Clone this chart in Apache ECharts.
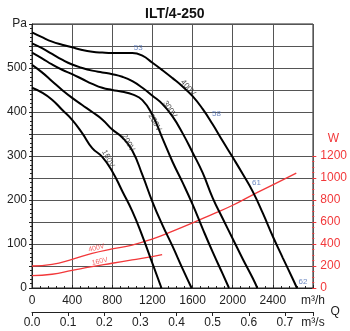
<!DOCTYPE html>
<html><head><meta charset="utf-8">
<script src="https://cdn.jsdelivr.net/npm/echarts@6/dist/echarts.min.js"></script>
<style>html,body{margin:0;padding:0;background:#fff}#c{width:350px;height:331px}</style>
</head><body><div id="c"></div>
<script>
// ---- data ----
const title = 'ILT/4-250';
const flowTicksMax = 2800;
const flow400 = [0,100,200,300,400,500,600,700,800,900,1000,1100,1200,1300,1400,1500,1600,1700,1800,1900,2000,2100,2200,2300,2400,2500,2600,2640];
const pa400   = [581,570,560,553,547,541,537,535,534,534,534,528,512,495,477,458,436,407,372,334,297,259,219,170,117,68,20,0];
const flow300 = [0,100,200,300,400,500,600,700,800,900,1000,1100,1200,1300,1400,1500,1600,1700,1800,1900,2000,2100,2200,2245];
const pa300   = [556,545,532,519,508,500,494,490,486,480,470,455,437,418,390,352,308,262,205,158,112,66,22,0];
const flow250 = [0,100,200,300,400,500,600,700,800,900,1000,1100,1200,1300,1400,1500,1600,1700,1800,1900,1963];
const pa250   = [535,522,508,496,486,475,464,455,450,446,440,427,393,340,287,240,190,135,82,32,0];
const flow200 = [0,100,200,300,400,500,600,700,800,900,1000,1100,1200,1300,1400,1500,1590];
const pa200   = [507,490,470,450,432,416,400,383,360,342,312,257,196,143,95,44,0];
const flow160 = [0,100,200,300,400,500,600,700,800,900,1000,1100,1200,1290];
const pa160   = [455,444,428,405,382,352,318,298,265,220,174,118,56,0];

const powerFlow400 = [0,200,400,600,800,1000,1200,1400,1600,1800,2000,2200,2400,2640];
const power400     = [200,215,260,315,355,390,445,515,590,670,750,845,935,1045];
const powerFlow160 = [0,200,400,600,800,1000,1200,1300];
const power160     = [112,125,160,195,225,255,285,303];

const curveNames = ['400V','300V','250V','200V','160V'];
const curveLabelFlow = [1555,1373,1224,958,759];
const curveLabelPa   = [455,406,376,330,294];
const powerNames = ['400V','160V'];
const powerLabelFlow = [644,677];
const powerLabelW    = [364,242];
const pointNames = ['53','58','61','62'];
const pointFlow  = [1058,1838,2236,2700];
const pointPa    = [547,397,238,15];

// ---- styling ----
const curveRot = [-48,-55,-60,-60,-62];
const powerRot = [14,12];
const FONT = 'Liberation Sans, Arial, sans-serif';
const RED = '#f2383a';
const zip = (a,b) => a.map((v,i)=>[v,b[i]]);

const chart = echarts.init(document.getElementById('c'), null, {renderer:'canvas'});
const fanSeries = [[flow400,pa400],[flow300,pa300],[flow250,pa250],[flow200,pa200],[flow160,pa160]].map((d,i)=>({
  type:'line', name:curveNames[i], xAxisIndex:0, yAxisIndex:0, data:zip(d[0],d[1]),
  smooth:0.5, showSymbol:false, lineStyle:{color:'#000',width:2}, z:5, silent:true
}));
const powerSeries = [[powerFlow400,power400],[powerFlow160,power160]].map((d,i)=>({
  type:'line', name:'P'+powerNames[i], xAxisIndex:2, yAxisIndex:1, data:zip(d[0],d[1]),
  smooth:0.5, showSymbol:false, lineStyle:{color:RED,width:1.3}, z:4, silent:true
}));
const textSeries = (names, xs, ys, rots, xi, yi, color, size) => ({
  type:'scatter', xAxisIndex:xi, yAxisIndex:yi, symbolSize:1, itemStyle:{color:'rgba(0,0,0,0)'}, z:6, silent:true,
  data: names.map((n,i)=>({value:[xs[i],ys[i]], label:{formatter:n, rotate: rots? rots[i]:0}})),
  label:{show:true, position:'inside', color, fontSize:size, fontFamily:FONT}
});

chart.setOption({
  animation:false,
  title:{text:title, left:140, top:2, textStyle:{fontSize:14, fontWeight:'bold', color:'#111', fontFamily:FONT}},
  grid:[
    {left:32, right:37, top:24, bottom:43, show:true, borderColor:'#222', borderWidth:1},
    {left:32, right:37, top:156, bottom:43, show:false}
  ],
  xAxis:[
    {type:'value', gridIndex:0, min:0, max:flowTicksMax, interval:400,
     axisLine:{show:true, lineStyle:{color:'#222'}},
     axisTick:{show:true, inside:true, length:3, lineStyle:{color:'#222'}},
     minorTick:{show:true, splitNumber:5, length:2, lineStyle:{color:'#222'}},
     axisLabel:{margin:7, fontSize:12, color:'#222', fontFamily:FONT, formatter:v=> v===flowTicksMax?'m³/h':String(v)},
     splitLine:{show:true, lineStyle:{color:'#555', width:1}}},
    {type:'value', gridIndex:0, position:'bottom', offset:24, min:0, max:flowTicksMax/3600, interval:0.1,
     axisLine:{show:true, lineStyle:{color:'#222'}},
     axisTick:{show:true, length:4, lineStyle:{color:'#222'}},
     axisLabel:{margin:5, fontSize:12, color:'#222', fontFamily:FONT, formatter:v=> v>0.75?'m³/s':v.toFixed(1)},
     splitLine:{show:false},
     name:'Q', nameLocation:'end', nameGap:8, nameTextStyle:{fontSize:12, color:'#222', fontFamily:FONT}},
    {type:'value', gridIndex:1, min:0, max:flowTicksMax, show:false}
  ],
  yAxis:[
    {type:'value', gridIndex:0, min:0, max:600, interval:50,
     axisLine:{show:true, lineStyle:{color:'#222'}},
     axisTick:{show:true, length:3, lineStyle:{color:'#222'}},
     minorTick:{show:true, splitNumber:5, length:2, lineStyle:{color:'#222'}},
     axisLabel:{margin:5, fontSize:12, color:'#222', fontFamily:FONT, formatter:v=> v%100!==0?'':(v===600?'Pa':String(v))},
     splitLine:{show:true, lineStyle:{color:'#555', width:1}}},
    {type:'value', gridIndex:1, position:'right', min:0, max:1200, interval:200,
     axisLine:{show:false, onZero:false},
     axisTick:{show:true, length:4, lineStyle:{color:RED}},
     minorTick:{show:true, splitNumber:4, length:2, lineStyle:{color:RED}},
     axisLabel:{margin:8, fontSize:12, color:RED, fontFamily:FONT, formatter:v=>String(v)},
     splitLine:{show:false},
     name:'W', nameLocation:'end', nameGap:11, nameTextStyle:{fontSize:12, color:RED, fontFamily:FONT, padding:[0,0,0,42]}}
  ],
  series:[
    ...fanSeries, ...powerSeries,
    textSeries(curveNames, curveLabelFlow, curveLabelPa, curveRot, 0, 0, '#222', 8),
    textSeries(powerNames, powerLabelFlow, powerLabelW, powerRot, 2, 1, RED, 7),
    textSeries(pointNames, pointFlow, pointPa, null, 0, 0, '#4a6cb3', 8)
  ]
});
</script></body></html>
